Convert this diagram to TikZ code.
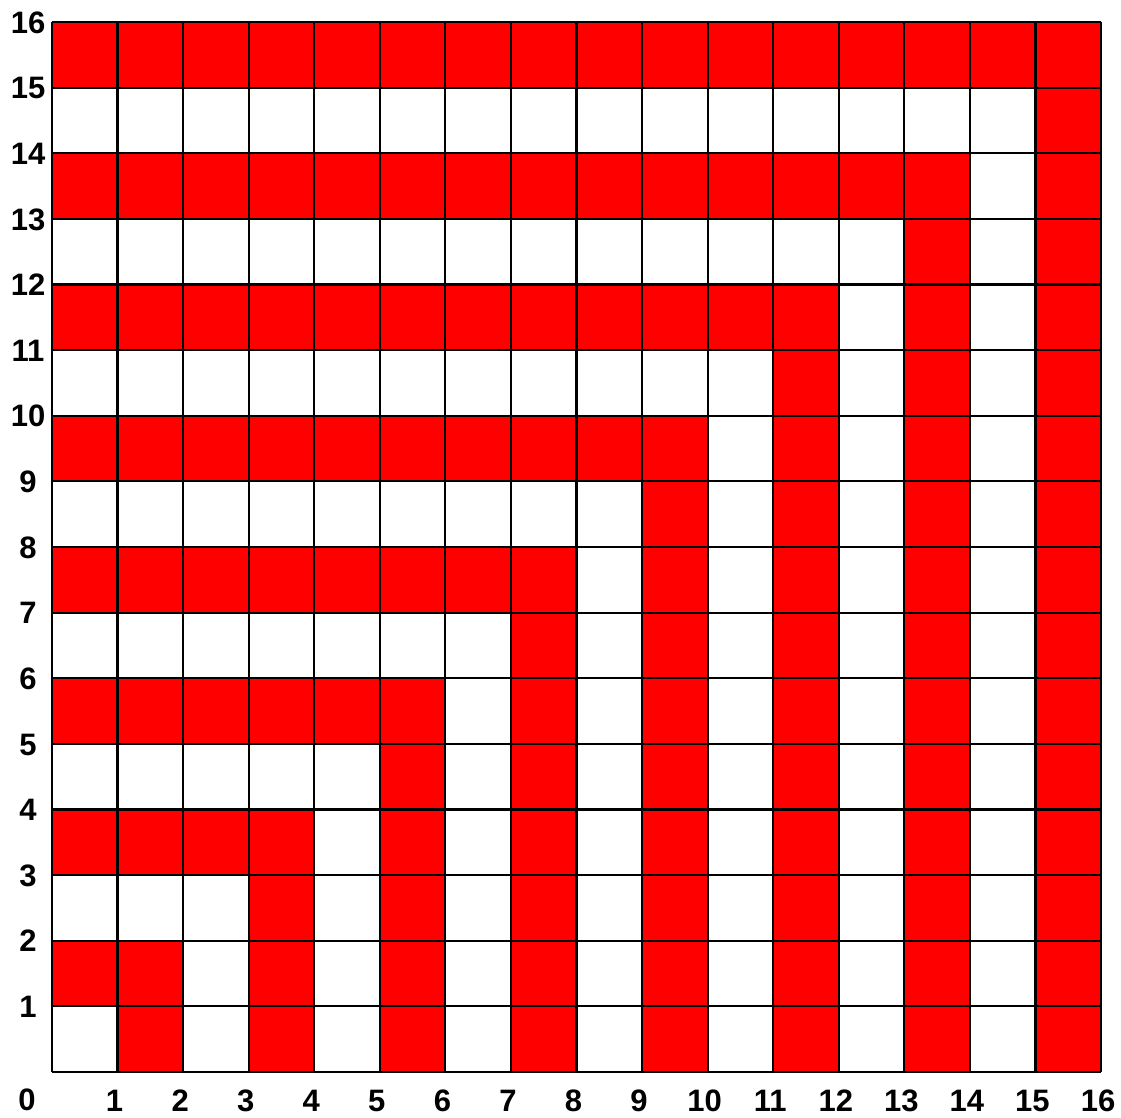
\documentclass[tikz,border=0pt]{standalone}
\usepackage{fontspec}
\setmainfont{Liberation Sans}
\begin{document}
\begin{tikzpicture}[x=1pt,y=1pt,
  lab/.style={font=\fontsize{31}{36}\selectfont\bfseries, inner sep=0pt, anchor=base},
  gridline/.style={line width=2.2pt, black}]
\definecolor{gridred}{RGB}{255,0,0}
\useasboundingbox (0,0) rectangle (1121,1118);
\begin{scope}[shift={(52,46)},x=65.56pt,y=65.625pt]
  \foreach \i in {0,...,15}{
    \foreach \j in {0,...,15}{
      \pgfmathtruncatemacro\m{max(\i,\j)}
      \ifodd\m \fill[gridred] (\i,\j) rectangle ++(1,1); \fi
    }
  }
  \foreach \k in {0,...,16}{
    \draw[gridline] (\k,0) -- (\k,16);
    \draw[gridline] (0,\k) -- (16,\k);
  }
  \foreach \k in {1,...,16}{
    \node[lab] (ylab\k) at (-0.366,\k-0.17) {\k};
    \node[lab] (xlab\k) at (\k-0.045,-0.60) {\k};
  }
  \node[lab] (zero) at (-0.381,-0.59) {0};
\end{scope}
\end{tikzpicture}
\end{document}
